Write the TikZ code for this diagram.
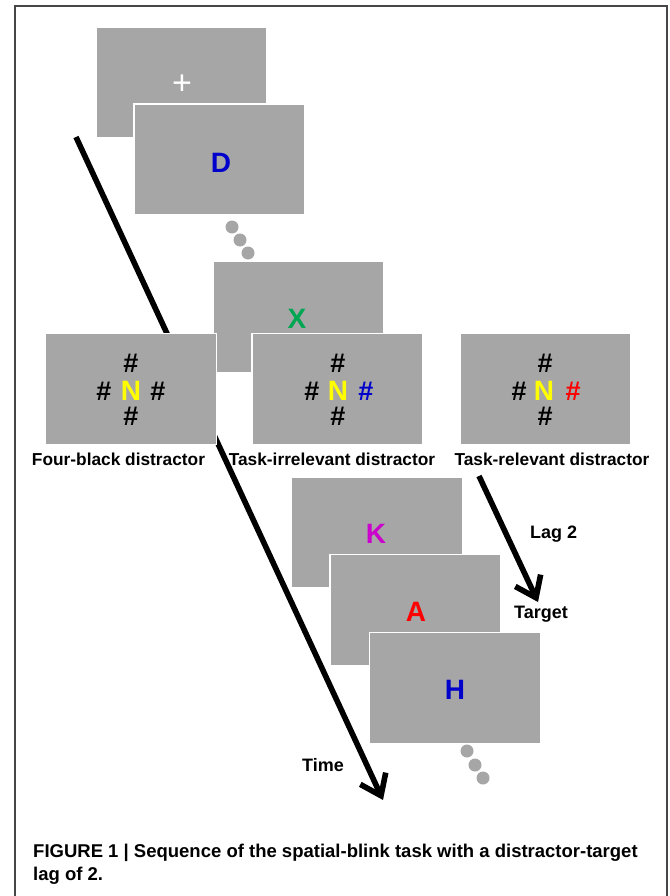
\documentclass[tikz,border=0pt]{standalone}
\usepackage{fontspec}
\setmainfont{Liberation Sans}
\usetikzlibrary{arrows.meta}
\definecolor{scr}{RGB}{166,166,166}
\definecolor{frm}{RGB}{70,70,70}
\definecolor{dblue}{RGB}{0,0,204}
\definecolor{dgreen}{RGB}{0,166,81}
\definecolor{mag}{RGB}{204,0,204}
\definecolor{yel}{RGB}{255,255,0}
\definecolor{rd}{RGB}{255,0,0}
\begin{document}
\begin{tikzpicture}[x=1pt,y=-1pt,
  screen/.style={rectangle, fill=scr, draw=white, line width=1.3pt, minimum width=171pt, minimum height=111pt, inner sep=0pt},
  letter/.style={font=\bfseries\fontsize{28}{28}\selectfont, inner sep=0pt, anchor=base},
  sym/.style={font=\bfseries\fontsize{27}{27}\selectfont, inner sep=0pt, anchor=base},
  lbl/.style={font=\bfseries\fontsize{17.3}{17.3}\selectfont, inner sep=0pt, anchor=base},
  sidelbl/.style={font=\bfseries\fontsize{18}{18}\selectfont, inner sep=0pt, anchor=base west},
  captext/.style={font=\bfseries\fontsize{18.5}{18.5}\selectfont, inner sep=0pt, anchor=base west},
  dot/.style={circle, fill=scr, minimum size=13pt, inner sep=0pt},
  flow/.style={line width=5.6pt, -{Straight Barb[length=19pt,width=28pt]}},
]
\useasboundingbox (0,0) rectangle (669,896);
\fill[white] (0,0) rectangle (669,896);
\draw[frm, line width=1.3pt] (15,900) -- (15,6) -- (667,6) -- (667,900);

% time arrow (behind the screens)
\coordinate (tstart) at (76,137);
\coordinate (tend) at (383,800);
\draw[flow] (tstart) -- (tend);

% fixation and first letter
\node[screen] (fix) at (181.5,82.5) {};
\node[font=\fontsize{34}{34}\selectfont, text=white, inner sep=0pt, anchor=base] (plus) at (182,95) {+};
\node[screen] (sD) at (219.5,159.5) {};
\node[letter, text=dblue] (lD) at (221,172) {D};
\node[dot] (d1) at (232,227) {};
\node[dot] (d2) at (240,240) {};
\node[dot] (d3) at (248,253) {};

\node[screen] (sX) at (298.5,317) {};
\node[letter, text=dgreen] (lX) at (297,328) {X};

% distractor screens
\node[screen] (four) at (131,389) {};
\node[sym] (f1) at (131,372) {\#};
\node[sym] (f2) at (104,400) {\#};
\node[letter, text=yel] (f3) at (131,400) {N};
\node[sym] (f4) at (158,400) {\#};
\node[sym] (f5) at (131,425) {\#};

\node[screen] (irr) at (337.5,389) {};
\node[sym] (i1) at (338,372) {\#};
\node[sym] (i2) at (312,400) {\#};
\node[letter, text=yel] (i3) at (338,400) {N};
\node[sym, text=dblue] (i4) at (366,400) {\#};
\node[sym] (i5) at (338,425) {\#};

\node[screen] (rel) at (545.5,389) {};
\node[sym] (r1) at (545,372) {\#};
\node[sym] (r2) at (519,400) {\#};
\node[letter, text=yel] (r3) at (544,400) {N};
\node[sym, text=rd] (r4) at (573,400) {\#};
\node[sym] (r5) at (545,425) {\#};

\node[lbl] (lfour) at (118.5,465) {Four-black distractor};
\node[lbl] (lirr) at (332,465) {Task-irrelevant distractor};
\node[lbl] (lrel) at (552,465) {Task-relevant distractor};

% later stream
\node[screen] (sK) at (377,532.5) {};
\node[letter, text=mag] (lK) at (376,543) {K};
\node[screen] (sA) at (415.5,610) {};
\node[letter, text=rd] (lA) at (416,621) {A};
\node[screen] (sH) at (455,688) {};
\node[letter, text=dblue] (lH) at (455,699) {H};
\node[dot] (e1) at (467,751) {};
\node[dot] (e2) at (475,765) {};
\node[dot] (e3) at (483,778) {};

% lag arrow
\coordinate (lstart) at (479,476);
\coordinate (lend) at (538,602);
\draw[flow] (lstart) -- (lend);
\node[sidelbl] (lag) at (530,538) {Lag 2};
\node[sidelbl] (tgt) at (514,618) {Target};
\node[sidelbl] (time) at (302,771) {Time};

% caption
\node[captext] (c1) at (33,857) {FIGURE 1 | Sequence of the spatial-blink task with a distractor-target};
\node[captext] (c2) at (33,880) {lag of 2.};
\end{tikzpicture}
\end{document}
